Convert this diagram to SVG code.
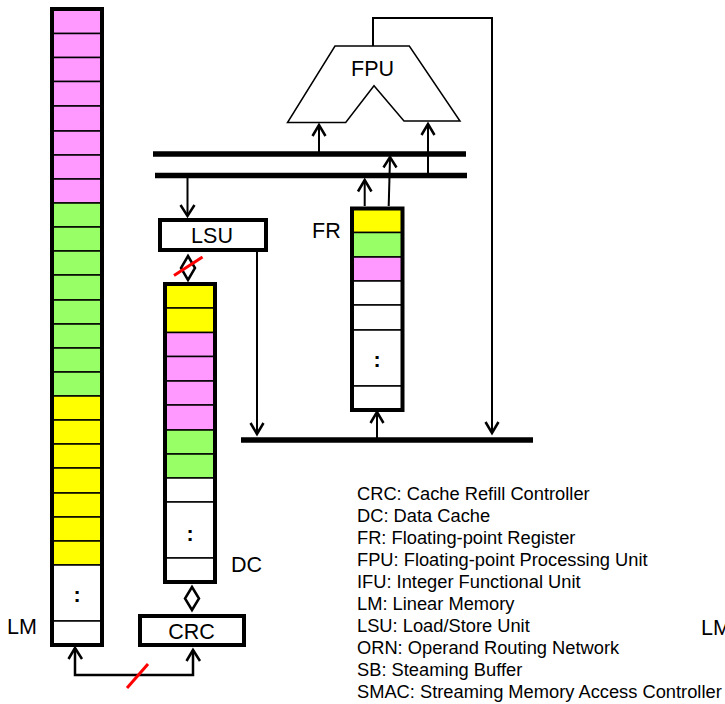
<svg xmlns="http://www.w3.org/2000/svg" width="725" height="704" viewBox="0 0 725 704">
<style>
text{font-family:"Liberation Sans",Arial,sans-serif;fill:#000}
.t{font-size:21.500px}
.k{font-size:18.300px}
.c{stroke:#000;stroke-width:1.500}
.f{stroke:#000;stroke-width:4;fill:none}
.p{fill:#ff99ff}.g{fill:#99ff66}.y{fill:#ffff00}.w{fill:#fff}
.l{stroke:#000;stroke-width:1.500;fill:none}
.a{stroke:#000;stroke-width:2;fill:none}
.h{stroke:#000;stroke-width:2.500;fill:none}
.b{stroke:#000;stroke-width:5.500;fill:none}
.r{stroke:#ff0000;stroke-width:3;fill:none}
</style>
<g id="LM">
<rect class="c p" x="52" y="9" width="50" height="24.500"/><rect class="c p" x="52" y="33.500" width="50" height="24"/><rect class="c p" x="52" y="57.500" width="50" height="24"/><rect class="c p" x="52" y="81.500" width="50" height="24.500"/><rect class="c p" x="52" y="106" width="50" height="25"/><rect class="c p" x="52" y="131" width="50" height="24"/><rect class="c p" x="52" y="155" width="50" height="24"/><rect class="c p" x="52" y="179" width="50" height="24"/>
<rect class="c g" x="52" y="203" width="50" height="24"/><rect class="c g" x="52" y="227" width="50" height="24"/><rect class="c g" x="52" y="251" width="50" height="24"/><rect class="c g" x="52" y="275" width="50" height="25"/><rect class="c g" x="52" y="300" width="50" height="24"/><rect class="c g" x="52" y="324" width="50" height="24"/><rect class="c g" x="52" y="348" width="50" height="24"/><rect class="c g" x="52" y="372" width="50" height="24"/>
<rect class="c y" x="52" y="396" width="50" height="24"/><rect class="c y" x="52" y="420" width="50" height="24"/><rect class="c y" x="52" y="444" width="50" height="24"/><rect class="c y" x="52" y="468" width="50" height="25"/><rect class="c y" x="52" y="493" width="50" height="24"/><rect class="c y" x="52" y="517" width="50" height="24"/><rect class="c y" x="52" y="541" width="50" height="24"/>
<rect class="c w" x="52" y="565" width="50" height="56"/><rect class="c w" x="52" y="621" width="50" height="24"/>
<rect class="f" x="52" y="9" width="50" height="636"/>
<text class="t" x="77" y="602" text-anchor="middle" font-weight="bold">:</text>
<text class="t" x="7" y="634">LM</text>
</g>
<g id="DC">
<rect class="c y" x="165" y="284" width="50" height="24"/><rect class="c y" x="165" y="308" width="50" height="24.500"/>
<rect class="c p" x="165" y="332.500" width="50" height="24"/><rect class="c p" x="165" y="356.500" width="50" height="24.500"/><rect class="c p" x="165" y="381" width="50" height="24"/><rect class="c p" x="165" y="405" width="50" height="25"/>
<rect class="c g" x="165" y="430" width="50" height="24"/><rect class="c g" x="165" y="454" width="50" height="24"/>
<rect class="c w" x="165" y="478" width="50" height="24"/><rect class="c w" x="165" y="502" width="50" height="56"/><rect class="c w" x="165" y="558" width="50" height="24"/>
<rect class="f" x="165" y="284" width="50" height="298"/>
<text class="t" x="190" y="541" text-anchor="middle" font-weight="bold">:</text>
<text class="t" x="231" y="572">DC</text>
</g>
<g id="FR">
<rect class="c y" x="352" y="208.500" width="50.500" height="24"/><rect class="c g" x="352" y="232.500" width="50.500" height="24.500"/><rect class="c p" x="352" y="257" width="50.500" height="24"/>
<rect class="c w" x="352" y="281" width="50.500" height="24"/><rect class="c w" x="352" y="305" width="50.500" height="25"/><rect class="c w" x="352" y="330" width="50.500" height="56"/><rect class="c w" x="352" y="386" width="50.500" height="24"/>
<rect class="f" x="352" y="208.500" width="50.500" height="201.500"/>
<text class="t" x="377" y="367" text-anchor="middle" font-weight="bold">:</text>
<text class="t" x="312" y="238">FR</text>
</g>
<g id="LSU">
<rect class="f" x="160" y="220" width="106" height="30"/>
<text class="t" x="212" y="243" text-anchor="middle">LSU</text>
</g>
<g id="CRC">
<rect class="f" x="140" y="616" width="104" height="29"/>
<text class="t" x="191.500" y="639" text-anchor="middle">CRC</text>
</g>
<g id="FPU">
<path d="M335 46H409.300L460 121H404L374 85.700L345.700 122.500H287.500Z" fill="#fff" stroke="#000" stroke-width="1.500"/>
<text class="t" x="372.500" y="76" text-anchor="middle">FPU</text>
</g>
<g id="connectors">
<path class="b" d="M153 154H466"/>
<path class="b" d="M155 175.500H467"/>
<path class="b" d="M241 440H533"/>
<path class="a" d="M187.500 178V216"/><path class="h" d="M180.500 205L187.500 216L194.500 205"/>
<path class="a" d="M319 152V126"/><path class="h" d="M312.500 136L319 125L325.500 136"/>
<path class="a" d="M428 174V125"/><path class="h" d="M421.500 135L428 124L434.500 135"/>
<path class="a" d="M388.700 206L390 158"/><path class="h" d="M383.500 167.500L390 157L396.500 167.500"/>
<path class="a" d="M364.700 206V181"/><path class="h" d="M358 191.500L364.700 180L371.500 191.500"/>
<path class="a" d="M257 250V434"/><path class="h" d="M250.500 423L257 434L263.500 423"/>
<path class="a" d="M373 46V18H492V433"/><path class="h" d="M485.500 422L492 433L498.500 422"/>
<path class="a" d="M377 438V413"/><path class="h" d="M370.500 423L377 412L383.500 423"/>
<path class="h" d="M188 256L195 268L188 280L181 268Z"/>
<path class="h" d="M192 587L199 598.500L192 610L185 598.500Z"/>
<path class="h" d="M75 648V675H193V650"/>
<path class="h" d="M68.500 659L75 648L82 659"/>
<path class="h" d="M186.500 661L193 650L200 661"/>
<path class="r" d="M174 275.500L202.500 257"/>
<path class="r" d="M127 688L148 664"/>
</g>
<g id="legend">
<text class="k" x="357" y="499.500">CRC: Cache Refill Controller</text>
<text class="k" x="357" y="521.500">DC: Data Cache</text>
<text class="k" x="357" y="543.500">FR: Floating-point Register</text>
<text class="k" x="357" y="565.500">FPU: Floating-point Processing Unit</text>
<text class="k" x="357" y="587.500">IFU: Integer Functional Unit</text>
<text class="k" x="357" y="609.500">LM: Linear Memory</text>
<text class="k" x="357" y="631.500">LSU: Load/Store Unit</text>
<text class="k" x="357" y="653.500">ORN: Operand Routing Network</text>
<text class="k" x="357" y="675.500">SB: Steaming Buffer</text>
<text class="k" x="357" y="697.500">SMAC: Streaming Memory Access Controller</text>
<text class="t" x="701" y="635">LM</text>
</g>
</svg>
